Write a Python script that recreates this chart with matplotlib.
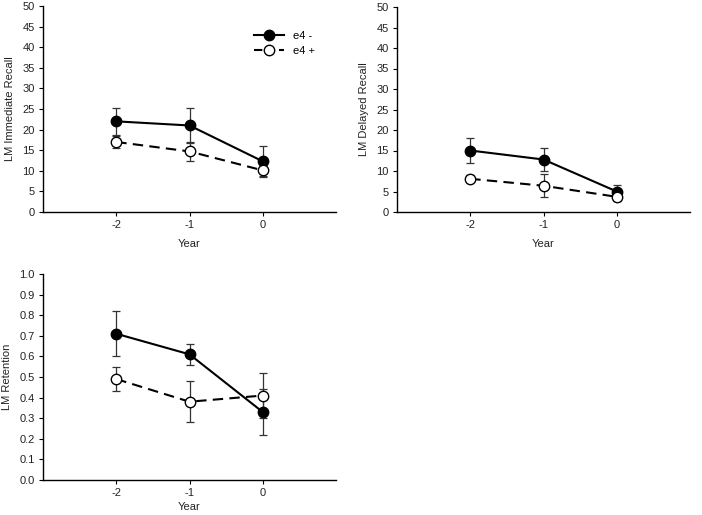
import matplotlib
matplotlib.use("Agg")
import matplotlib.pyplot as plt
from matplotlib.lines import Line2D

plt.rcParams['font.family'] = ['Liberation Sans', 'DejaVu Sans']

years = [-2, -1, 0]

imm_neg = [22.0, 21.0, 12.3]
imm_neg_err = [3.2, 4.3, 3.7]
imm_pos = [17.0, 14.7, 10.1]
imm_pos_err = [1.4, 2.4, 1.3]

del_neg = [15.0, 12.8, 5.0]
del_neg_err = [3.0, 2.8, 1.5]
del_pos = [8.1, 6.4, 3.7]
del_pos_err = [0.9, 2.8, 1.0]

ret_neg = [0.71, 0.61, 0.33]
ret_neg_err = [0.11, 0.05, 0.11]
ret_pos = [0.49, 0.38, 0.41]
ret_pos_err = [0.06, 0.10, 0.11]

W, H = 702, 515
fig = plt.figure(figsize=(W/100, H/100), dpi=100)

def make_ax(l, r, t, b):
    return fig.add_axes([l/W, 1 - b/H, (r-l)/W, (b-t)/H])

def style(ax, ylabel, ylim, yticks, yfmt, xpad):
    ax.set_xlim(-3, 1)
    ax.set_ylim(*ylim)
    ax.set_xticks(years)
    ax.set_xticklabels(['-2', '-1', '0'])
    ax.set_yticks(yticks)
    ax.set_yticklabels([yfmt.format(v) for v in yticks])
    for s in ['top', 'right']:
        ax.spines[s].set_visible(False)
    for s in ['left', 'bottom']:
        ax.spines[s].set_linewidth(1.0)
    ax.tick_params(axis='both', direction='out', length=3, width=0.8, labelsize=8, pad=3,
                   labelcolor='#222222')
    ax.set_ylabel(ylabel, fontsize=8, labelpad=5, color='#222222')
    ax.set_xlabel('Year', fontsize=8, labelpad=xpad, color='#222222')

def draw(ax, neg, neg_err, pos, pos_err):
    ax.errorbar(years, neg, yerr=neg_err, fmt='none', ecolor='#333333', elinewidth=0.9, capsize=3, capthick=0.9, zorder=2)
    ax.errorbar(years, pos, yerr=pos_err, fmt='none', ecolor='#333333', elinewidth=0.9, capsize=3, capthick=0.9, zorder=2)
    ax.plot(years, neg, '-', color='black', lw=1.5, marker='o', ms=7.5, mfc='black', mec='black', zorder=3)
    ax.plot(years, pos, '--', color='black', lw=1.5, dashes=(5, 3), marker='o', ms=7.5, mfc='white', mec='black', mew=1.0, zorder=3)

ax1 = make_ax(43, 336, 6, 212)
style(ax1, 'LM Immediate Recall', (0, 50), list(range(0, 51, 5)), '{:d}', 6)
draw(ax1, imm_neg, imm_neg_err, imm_pos, imm_pos_err)

ax2 = make_ax(397, 690, 7, 212)
style(ax2, 'LM Delayed Recall', (0, 50), list(range(0, 51, 5)), '{:d}', 6)
draw(ax2, del_neg, del_neg_err, del_pos, del_pos_err)

ax3 = make_ax(43, 336, 274, 480)
style(ax3, 'LM Retention', (0, 1.0), [i/10 for i in range(11)], '{:.1f}', 3)
draw(ax3, ret_neg, ret_neg_err, ret_pos, ret_pos_err)

handles = [
    Line2D([], [], color='black', lw=1.5, marker='o', ms=7.5, mfc='black', mec='black'),
    Line2D([], [], color='black', lw=1.5, ls='--', dashes=(4, 2), marker='o', ms=7.5, mfc='white', mec='black'),
]
fig.legend(handles, ['e4 -', 'e4 +'], loc='upper left', bbox_to_anchor=(254/W, 1 - 31/H),
           frameon=False, fontsize=8, handlelength=2.7, handletextpad=0.8, labelspacing=0.45,
           borderpad=0, borderaxespad=0)

fig.savefig('out.png', dpi=100)
